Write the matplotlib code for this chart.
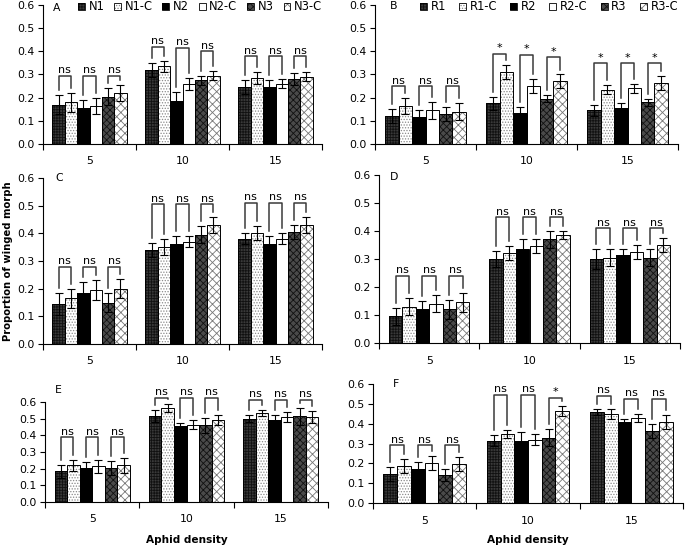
import numpy as np
import matplotlib
matplotlib.use("Agg")
import matplotlib.pyplot as plt
from matplotlib.patches import Patch
from matplotlib.ticker import FormatStrFormatter, FixedLocator

plt.rcParams['font.family'] = ['DejaVu Sans']
plt.rcParams['hatch.linewidth'] = 0.6

groups = ['5', '10', '15']
labels_N = ['N1', 'N1-C', 'N2', 'N2-C', 'N3', 'N3-C']
labels_R = ['R1', 'R1-C', 'R2', 'R2-C', 'R3', 'R3-C']

# Panel A
A_means = [[0.17, 0.32, 0.245], [0.18, 0.335, 0.285], [0.155, 0.185, 0.245],
           [0.165, 0.26, 0.26], [0.205, 0.275, 0.28], [0.22, 0.295, 0.29]]
A_errs = [[0.04, 0.03, 0.03], [0.04, 0.025, 0.025], [0.035, 0.04, 0.03],
          [0.035, 0.025, 0.02], [0.035, 0.02, 0.025], [0.035, 0.02, 0.02]]
A_brk = [[0.295, 0.295, 0.295], [0.42, 0.415, 0.40], [0.38, 0.38, 0.38]]
A_sig = [['ns', 'ns', 'ns'], ['ns', 'ns', 'ns'], ['ns', 'ns', 'ns']]

# Panel B
B_means = [[0.12, 0.175, 0.145], [0.165, 0.31, 0.235], [0.115, 0.135, 0.155],
           [0.145, 0.25, 0.24], [0.13, 0.195, 0.18], [0.14, 0.27, 0.265]]
B_errs = [[0.03, 0.03, 0.025], [0.035, 0.03, 0.02], [0.03, 0.025, 0.02],
          [0.035, 0.03, 0.02], [0.03, 0.015, 0.015], [0.035, 0.03, 0.03]]
B_brk = [[0.25, 0.25, 0.25], [0.39, 0.385, 0.375], [0.35, 0.35, 0.35]]
B_sig = [['ns', 'ns', 'ns'], ['*', '*', '*'], ['*', '*', '*']]

# Panel C
C_means = [[0.145, 0.34, 0.38], [0.165, 0.35, 0.40], [0.185, 0.36, 0.36],
           [0.195, 0.37, 0.38], [0.15, 0.395, 0.405], [0.20, 0.43, 0.43]]
C_errs = [[0.04, 0.025, 0.02], [0.035, 0.03, 0.025], [0.04, 0.03, 0.03],
          [0.035, 0.02, 0.02], [0.035, 0.03, 0.025], [0.035, 0.03, 0.03]]
C_brk = [[0.28, 0.28, 0.28], [0.505, 0.505, 0.505], [0.51, 0.51, 0.51]]
C_sig = [['ns', 'ns', 'ns'], ['ns', 'ns', 'ns'], ['ns', 'ns', 'ns']]

# Panel D
D_means = [[0.095, 0.30, 0.30], [0.13, 0.32, 0.305], [0.12, 0.335, 0.315],
           [0.14, 0.345, 0.325], [0.12, 0.37, 0.305], [0.145, 0.385, 0.35]]
D_errs = [[0.03, 0.03, 0.035], [0.03, 0.025, 0.03], [0.03, 0.035, 0.02],
          [0.03, 0.025, 0.025], [0.035, 0.03, 0.03], [0.035, 0.015, 0.025]]
D_brk = [[0.24, 0.24, 0.24], [0.45, 0.45, 0.45], [0.41, 0.41, 0.41]]
D_sig = [['ns', 'ns', 'ns'], ['ns', 'ns', 'ns'], ['ns', 'ns', 'ns']]

# Panel E
E_means = [[0.185, 0.515, 0.50], [0.22, 0.565, 0.535], [0.205, 0.455, 0.49],
           [0.215, 0.465, 0.51], [0.205, 0.46, 0.515], [0.22, 0.495, 0.51]]
E_errs = [[0.04, 0.035, 0.02], [0.035, 0.025, 0.02], [0.035, 0.02, 0.035],
          [0.04, 0.025, 0.03], [0.04, 0.045, 0.05], [0.045, 0.03, 0.035]]
E_brk = [[0.39, 0.39, 0.39], [0.625, 0.625, 0.625], [0.615, 0.615, 0.615]]
E_sig = [['ns', 'ns', 'ns'], ['ns', 'ns', 'ns'], ['ns', 'ns', 'ns']]

# Panel F
F_means = [[0.145, 0.315, 0.46], [0.185, 0.35, 0.45], [0.17, 0.315, 0.41],
           [0.20, 0.32, 0.43], [0.14, 0.33, 0.365], [0.195, 0.465, 0.41]]
F_errs = [[0.035, 0.03, 0.015], [0.035, 0.02, 0.025], [0.035, 0.045, 0.015],
          [0.035, 0.03, 0.02], [0.03, 0.045, 0.035], [0.035, 0.025, 0.035]]
F_brk = [[0.29, 0.29, 0.29], [0.545, 0.545, 0.53], [0.54, 0.525, 0.525]]
F_sig = [['ns', 'ns', 'ns'], ['ns', 'ns', '*'], ['ns', 'ns', 'ns']]

# bar styles: (facecolor, hatchcolor, hatch)
styles = [('#3a3a3a', '#111111', '++++++'),
          ('#ffffff', '#8a8a8a', '......'),
          ('#000000', '#000000', None),
          ('#ffffff', '#ffffff', None),
          ('#4a4a4a', '#111111', 'xxxxx'),
          ('#ffffff', '#777777', 'xxxx')]

W, H = 685, 546
fig = plt.figure(figsize=(W / 100, H / 100), dpi=100)


def px_axes(x0, x1, ytop, ybot):
    return fig.add_axes([x0 / W, (H - ybot) / H, (x1 - x0) / W, (ybot - ytop) / H])


panels = [
    ('A', (43, 322, 5, 144), A_means, A_errs, A_brk, A_sig, labels_N, (78, 322)),
    ('B', (375, 678, 5, 144), B_means, B_errs, B_brk, B_sig, labels_R, (420, 678)),
    ('C', (43, 322, 178, 344), C_means, C_errs, C_brk, C_sig, None, None),
    ('D', (379, 680, 175, 343), D_means, D_errs, D_brk, D_sig, None, None),
    ('E', (45, 328, 402, 502), E_means, E_errs, E_brk, E_sig, None, None),
    ('F', (373, 683, 384, 503), F_means, F_errs, F_brk, F_sig, None, None),
]
letter_pos = {'A': (53, 8), 'B': (390, 6), 'C': (55, 178), 'D': (390, 177),
              'E': (55, 390), 'F': (393, 384)}

w = 0.133
offs = (np.arange(6) - 2.5) * w
x = np.arange(len(groups))
tick_fs = 7.2
ns_fs = 8.0
leg_fs = 8.3

for name, (x0, x1, yt, yb), means, errs, brk, sig, leglabels, legspan in panels:
    ax = px_axes(x0, x1, yt, yb)
    handles = []
    for i in range(6):
        fc, hc, hatch = styles[i]
        ax.bar(x + offs[i], means[i], w, color=fc, edgecolor=hc, hatch=hatch,
               linewidth=0, zorder=2)
        ax.bar(x + offs[i], means[i], w, fill=False, edgecolor='black',
               linewidth=0.7, zorder=3)
        ax.errorbar(x + offs[i], means[i], yerr=errs[i], fmt='none',
                    ecolor='black', elinewidth=0.8, capsize=2.8, capthick=0.8,
                    zorder=4)
        handles.append((Patch(facecolor=fc, edgecolor=hc, hatch=hatch, linewidth=0),
                        Patch(fill=False, edgecolor='black', linewidth=0.6)))
    ax.set_xlim(-0.5, 2.5)
    ax.set_ylim(0, 0.6)
    data_per_px = 0.6 / (yb - yt)
    gap = 5 * data_per_px
    for g in range(3):
        for p in range(3):
            i1, i2 = 2 * p, 2 * p + 1
            xa, xb = g + offs[i1], g + offs[i2]
            ytop = brk[g][p]
            ya = means[i1][g] + errs[i1][g] + gap
            yb2 = means[i2][g] + errs[i2][g] + gap
            ax.plot([xa, xa, xb, xb], [ya, ytop, ytop, yb2], color='#3a3a3a',
                    linewidth=1.1, clip_on=False, zorder=5)
            ax.annotate(sig[g][p], xy=((xa + xb) / 2, ytop), xytext=(0, 0.3),
                        textcoords='offset points', ha='center', va='bottom',
                        fontsize=ns_fs, annotation_clip=False)
    ax.spines['top'].set_visible(False)
    ax.spines['right'].set_visible(False)
    ax.spines['left'].set_linewidth(0.8)
    ax.spines['bottom'].set_linewidth(0.8)
    ax.set_yticks(np.arange(0, 0.61, 0.1))
    ax.yaxis.set_major_formatter(FormatStrFormatter('%.1f'))
    ax.tick_params(axis='y', direction='out', length=3.5, width=0.8,
                   labelsize=tick_fs + 0.6, pad=2.5)
    ax.set_xticks(x)
    ax.set_xticklabels(groups)
    ax.xaxis.set_minor_locator(FixedLocator([-0.5, 0.5, 1.5, 2.5]))
    ax.tick_params(axis='x', which='major', length=0, labelsize=tick_fs + 0.6, pad=9)
    ax.tick_params(axis='x', which='minor', direction='out', length=4, width=0.8)
    if legspan is not None:
        lx0 = (legspan[0] - x0) / (x1 - x0)
        lx1 = (legspan[1] - x0) / (x1 - x0)
        yc = 1 - 2.0 / (yb - yt)
        ax.legend(handles, leglabels, ncol=6, loc='center', mode='expand',
                  bbox_to_anchor=(lx0, yc - 0.05, lx1 - lx0, 0.1),
                  frameon=False, fontsize=leg_fs, handlelength=0.6,
                  handleheight=0.6, handletextpad=0.3, columnspacing=0.6,
                  borderaxespad=0, borderpad=0)
    if name in ('E', 'F'):
        fig.text((x0 + x1) / 2 / W, 1 - 540 / H, 'Aphid density',
                 fontsize=7.6, fontweight='bold', ha='center', va='center')
    lx, ly = letter_pos[name]
    fig.text(lx / W, 1 - ly / H, name, fontsize=tick_fs + 0.6, ha='left',
             va='center')

fig.text(8 / W, 1 - 261 / H, 'Proportion of winged morph', rotation=90,
         fontsize=7.2, fontweight='bold', ha='center', va='center')

fig.savefig('out.png', dpi=100)
